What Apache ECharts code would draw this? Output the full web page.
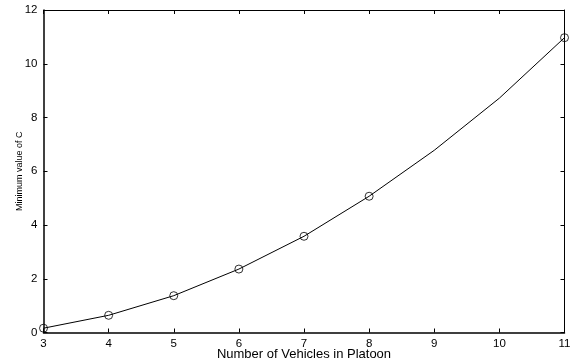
<!DOCTYPE html>
<html><head><meta charset="utf-8">
<script src="https://cdn.jsdelivr.net/npm/echarts@6/dist/echarts.min.js"></script>
<style>html,body{margin:0;padding:0;background:#fff}#c{width:574px;height:360px}</style>
</head><body><div id="c"></div>
<script>
const vehicles = [3, 4, 5, 6, 7, 8, 9, 10, 11];
const minC = [0.16, 0.64, 1.37, 2.36, 3.58, 5.07, 6.78, 8.72, 10.97];
const markedVehicles = [3, 4, 5, 6, 7, 8, 11];
const xTitle = 'Number of Vehicles in Platoon';
const yTitle = 'Minimum value of C';

const lineData = vehicles.map((v, i) => [v, minC[i]]);
const markData = lineData.filter(d => markedVehicles.includes(d[0]));
const font = 'Liberation Sans, Arial, sans-serif';
const chart = echarts.init(document.getElementById('c'));
const axBase = {
  type: 'value',
  splitLine: {show: false},
  axisTick: {inside: true, length: 4, lineStyle: {color: '#000', width: 1}},
  axisLabel: {color: '#000', fontFamily: font, fontSize: 11.5}
};
chart.setOption({
  animation: false,
  backgroundColor: '#fff',
  grid: {left: 43.5, right: 9.5, top: 10, bottom: 27.5, containLabel: false, outerBoundsMode: 'none'},
  xAxis: [
    Object.assign({}, axBase, {min: 3, max: 11, interval: 1, position: 'bottom',
      axisLine: {onZero: false, lineStyle: {color: '#000', width: 1.5}},
      axisLabel: Object.assign({}, axBase.axisLabel, {margin: 5}),
      name: xTitle, nameLocation: 'middle', nameGap: 15, nameMoveOverlap: false,
      nameTextStyle: {color: '#000', fontFamily: font, fontSize: 13, lineHeight: 13}}),
    Object.assign({}, axBase, {min: 3, max: 11, interval: 1, position: 'top',
      axisLine: {onZero: false, lineStyle: {color: '#000', width: 1}},
      axisLabel: {show: false}})
  ],
  yAxis: [
    Object.assign({}, axBase, {min: 0, max: 12, interval: 2, position: 'left',
      axisLine: {show: true, onZero: false, lineStyle: {color: '#000', width: 1.5}},
      axisLabel: Object.assign({}, axBase.axisLabel, {margin: 6}),
      name: yTitle, nameLocation: 'middle', nameGap: 19, nameMoveOverlap: false,
      nameTextStyle: {color: '#000', fontFamily: font, fontSize: 9}}),
    Object.assign({}, axBase, {min: 0, max: 12, interval: 2, position: 'right',
      axisLine: {show: true, onZero: false, lineStyle: {color: '#000', width: 1}},
      axisLabel: {show: false}})
  ],
  series: [
    {type: 'line', data: lineData, showSymbol: false, symbol: 'none',
     lineStyle: {color: '#000', width: 1}, xAxisIndex: 0, yAxisIndex: 0},
    {type: 'scatter', data: markData, symbol: 'circle', symbolSize: 8,
     itemStyle: {color: 'rgba(0,0,0,0)', borderColor: '#000', borderWidth: 1},
     xAxisIndex: 0, yAxisIndex: 0, z: 3}
  ]
});
</script></body></html>
